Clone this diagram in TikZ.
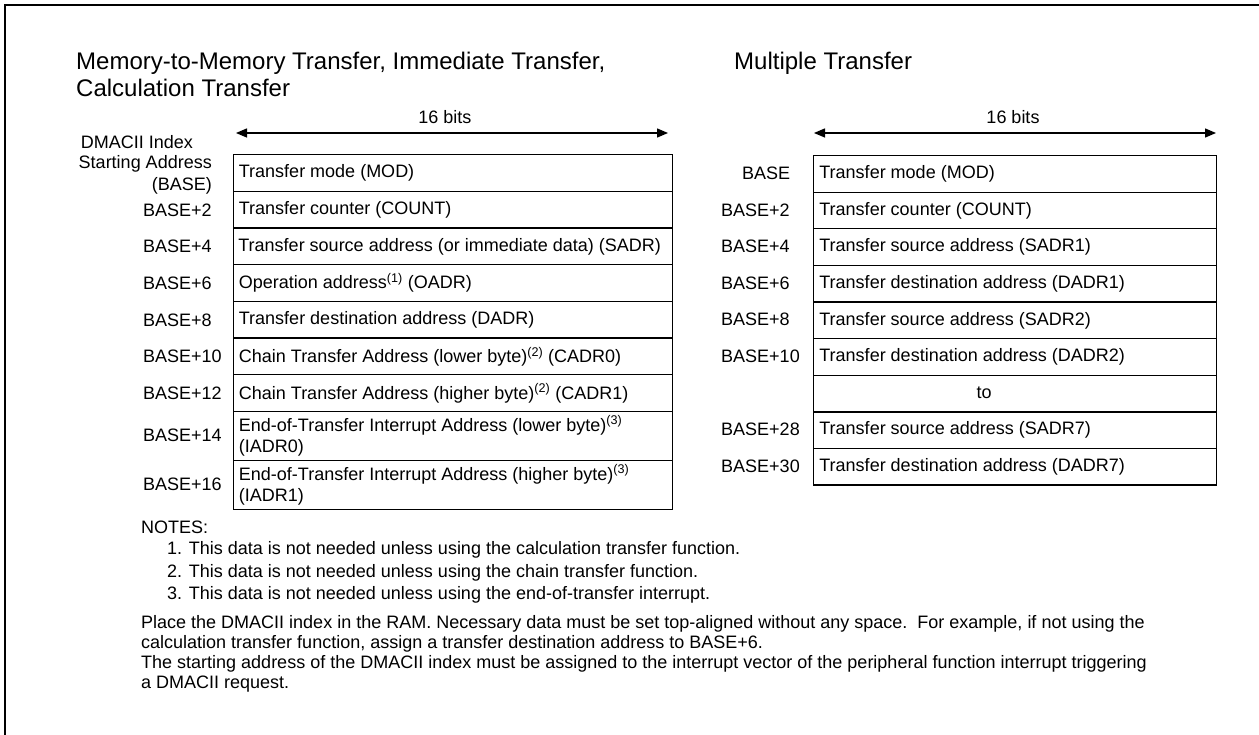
\documentclass[tikz,border=0pt]{standalone}
\usepackage{fontspec}
\setmainfont{Liberation Sans}
\usetikzlibrary{arrows.meta}
\begin{document}
\begin{tikzpicture}[x=1pt,y=-1pt,
  body/.style={font=\fontsize{18}{21.5}\selectfont, inner sep=0pt},
  ttl/.style={font=\fontsize{24}{29}\selectfont, inner sep=0pt, anchor=west},
  lcell/.style={draw, line width=1.3pt, anchor=north west, minimum width=439.3pt, minimum height=36.7pt, inner sep=0pt},
  rcell/.style={draw, line width=1.3pt, anchor=north west, minimum width=403.3pt, minimum height=36.6pt, inner sep=0pt},
  ctext/.style={body, anchor=west, align=left},
  lab/.style={body, anchor=west},
  dim/.style={line width=1.3pt, {Triangle[length=11pt,width=9pt]}-{Triangle[length=11pt,width=9pt]}},
  frame/.style={line width=2pt}
]
\useasboundingbox (0,0) rectangle (1259,735);
% frame
\coordinate (f1) at (5,735);
\coordinate (f2) at (5,5);
\coordinate (f3) at (1259,5);
\draw[frame] (f1) -- (f2) -- (f3);

% titles
\node[ttl] (t1) at (76,63) {Memory-to-Memory Transfer, Immediate Transfer,};
\node[ttl] (t2) at (76,88) {Calculation Transfer};
\node[ttl] (t3) at (734,63) {Multiple Transfer};

% 16 bits arrows
\coordinate (la) at (236,133);
\coordinate (lb) at (668,133);
\draw[dim] (la) -- (lb);
\node[body] (lbits) at (445,117) {16 bits};
\coordinate (ra) at (814,133);
\coordinate (rb) at (1216,133);
\draw[dim] (ra) -- (rb);
\node[body] (rbits) at (1013,117) {16 bits};

% left table
\node[lcell] (l1) at (232.7,154) {};
\node[lcell] (l2) at (232.7,190.7) {};
\node[lcell] (l3) at (232.7,227.4) {};
\node[lcell] (l4) at (232.7,264.1) {};
\node[lcell] (l5) at (232.7,300.8) {};
\node[lcell] (l6) at (232.7,337.5) {};
\node[lcell] (l7) at (232.7,374.2) {};
\node[lcell, minimum height=49pt] (l8) at (232.7,411) {};
\node[lcell, minimum height=49pt] (l9) at (232.7,460) {};
\node[ctext] at ([xshift=6pt]l1.west) {Transfer mode (MOD)};
\node[ctext] at ([xshift=6pt]l2.west) {Transfer counter (COUNT)};
\node[ctext] at ([xshift=5.5pt]l3.west) {Transfer source address (or immediate data) (SADR)};
\node[ctext] at ([xshift=6pt]l4.west) {Operation address\textsuperscript{(1)} (OADR)};
\node[ctext] at ([xshift=6pt]l5.west) {Transfer destination address (DADR)};
\node[ctext] at ([xshift=6pt]l6.west) {Chain Transfer Address (lower byte)\textsuperscript{(2)} (CADR0)};
\node[ctext] at ([xshift=6pt]l7.west) {Chain Transfer Address (higher byte)\textsuperscript{(2)} (CADR1)};
\node[ctext] at ([xshift=6pt]l8.west) {End-of-Transfer Interrupt Address (lower byte)\textsuperscript{(3)}\\(IADR0)};
\node[ctext] at ([xshift=6pt]l9.west) {End-of-Transfer Interrupt Address (higher byte)\textsuperscript{(3)}\\(IADR1)};

% left labels
\node[body, align=center] (lidx) at (137,142) {DMACII Index};
\node[body, anchor=east, align=right] (lsa) at (212,164) {Starting Address};
\node[body, anchor=east] (lbase) at (212,186) {(BASE)};
\node[lab] (lb2) at (143,210) {BASE+2};
\node[lab] (lb4) at (143,246.7) {BASE+4};
\node[lab] (lb6) at (143,283.4) {BASE+6};
\node[lab] (lb8) at (143,320.1) {BASE+8};
\node[lab] (lb10) at (143,356.8) {BASE+10};
\node[lab] (lb12) at (143,393.5) {BASE+12};
\node[lab] (lb14) at (143,435.5) {BASE+14};
\node[lab] (lb16) at (143,484.5) {BASE+16};

% right table
\node[rcell] (r1) at (812.7,155) {};
\node[rcell] (r2) at (812.7,191.6) {};
\node[rcell] (r3) at (812.7,228.2) {};
\node[rcell] (r4) at (812.7,264.8) {};
\node[rcell] (r5) at (812.7,301.4) {};
\node[rcell] (r6) at (812.7,338) {};
\node[rcell] (r7) at (812.7,374.6) {};
\node[rcell] (r8) at (812.7,411.2) {};
\node[rcell] (r9) at (812.7,447.8) {};
\node[ctext] at ([xshift=6.5pt]r1.west) {Transfer mode (MOD)};
\node[ctext] at ([xshift=6.5pt]r2.west) {Transfer counter (COUNT)};
\node[ctext] at ([xshift=6.5pt]r3.west) {Transfer source address (SADR1)};
\node[ctext] at ([xshift=6.5pt]r4.west) {Transfer destination address (DADR1)};
\node[ctext] at ([xshift=6.5pt]r5.west) {Transfer source address (SADR2)};
\node[ctext] at ([xshift=6.5pt]r6.west) {Transfer destination address (DADR2)};
\node[body] (rto) at (984,392.9) {to};
\node[ctext] at ([xshift=6.5pt]r8.west) {Transfer source address (SADR7)};
\node[ctext] at ([xshift=6.5pt]r9.west) {Transfer destination address (DADR7)};

% right labels
\node[lab] (rb0) at (742,173.3) {BASE};
\node[lab] (rb2) at (721,209.9) {BASE+2};
\node[lab] (rb4) at (721,246.5) {BASE+4};
\node[lab] (rb6) at (721,283.1) {BASE+6};
\node[lab] (rb8) at (721,319.7) {BASE+8};
\node[lab] (rb10) at (721,356.3) {BASE+10};
\node[lab] (rb28) at (721,429.5) {BASE+28};
\node[lab] (rb30) at (721,466.1) {BASE+30};

% notes
\node[lab] (notes) at (141,527) {NOTES:};
\node[lab] (n1) at (167,550) {1. This data is not needed unless using the calculation transfer function.};
\node[lab] (n2) at (167,572.5) {2. This data is not needed unless using the chain transfer function.};
\node[lab] (n3) at (167,595) {3. This data is not needed unless using the end-of-transfer interrupt.};
\node[lab] (p1) at (141,624) {Place the DMACII index in the RAM. Necessary data must be set top-aligned without any space.\ \ For example, if not using the};
\node[lab] (p2) at (141,644) {calculation transfer function, assign a transfer destination address to BASE+6.};
\node[lab] (p3) at (141,664) {The starting address of the DMACII index must be assigned to the interrupt vector of the peripheral function interrupt triggering};
\node[lab] (p4) at (141,684) {a DMACII request.};
\end{tikzpicture}
\end{document}
